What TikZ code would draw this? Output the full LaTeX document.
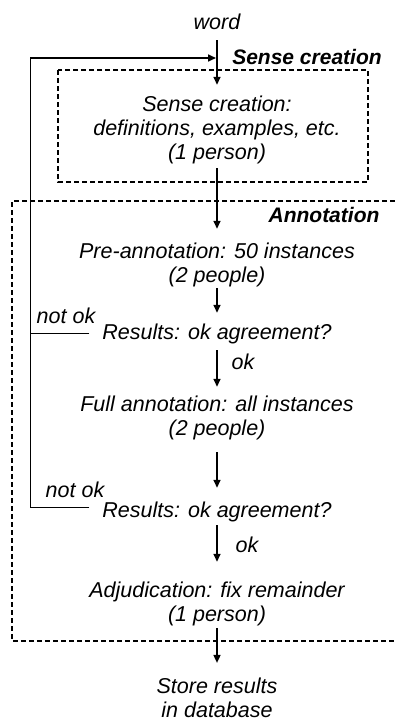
\documentclass[tikz,border=0pt]{standalone}
\usepackage{fontspec}
\setmainfont{Liberation Sans}
\usetikzlibrary{arrows.meta,positioning}

\begin{document}
\begin{tikzpicture}[x=1pt, y=-1pt, >={Triangle[length=8pt,width=7pt]},
            every node/.style = {font=\fontsize{21.5}{24}\selectfont\itshape, align=center, inner sep=0pt},
            title/.style = {font=\fontsize{21}{24}\selectfont\bfseries\itshape},
            arr/.style = {->, line width=1.6pt},
            backline/.style = {line width=0.9pt},
            frame/.style = {line width=1.3pt, dash pattern=on 5pt off 3pt},
        ]
        \useasboundingbox (0,0) rectangle (395,723);

        % the two phases
        \draw[frame] (58,70) rectangle (368,182);
        \draw[frame] (395,201) -- (12,201) -- (12,641) -- (395,641);
        \node[title] (sensetitle) at (307,57) {Sense creation};
        \node[title] (annotitle) at (324,215) {Annotation};

        \node (word) at (217,22) {word};
        \node (sense) at (217,130) {Sense creation:\\definitions, examples, etc.\\(1 person)};
        \node (pre) at (217,265) {Pre-annotation: 50 instances\\(2 people)};
        \node (res1) at (217,334) {Results: ok agreement?};
        \node (full) at (217,418) {Full annotation: all instances\\(2 people)};
        \node (res2) at (217,512) {Results: ok agreement?};
        \node (adj) at (217,604) {Adjudication: fix remainder\\(1 person)};
        \node (store) at (217,698) {Store results\\in database};

        \node (notok1) at (66,316) {not ok};
        \node (notok2) at (75,490) {not ok};
        \node (ok1) at (243,362) {ok};
        \node (ok2) at (247,545) {ok};

        \foreach \a/\b/\s/\e in {word/sense/10/11, sense/pre/4/14, pre/res1/1/11, res1/full/6/9,
                full/res2/12/14, res2/adj/3/20, adj/store/2/15}
            {
                \draw[arr, shorten <=\s pt, shorten >=\e pt] (\a.south) -- (\b.north);
            }

        % way back when agreement is not ok
        \coordinate (turn) at (30,58);
        \coordinate (join) at (216,58);
        \draw[backline] ([xshift=-13pt, yshift=5pt]res2.west) -| (turn);
        \draw[backline] ([xshift=-13pt, yshift=1pt]res1.west) -- ([yshift=1pt]res1.west -| turn);
        \draw[arr] (turn) -- (join);
    \end{tikzpicture}
\end{document}
